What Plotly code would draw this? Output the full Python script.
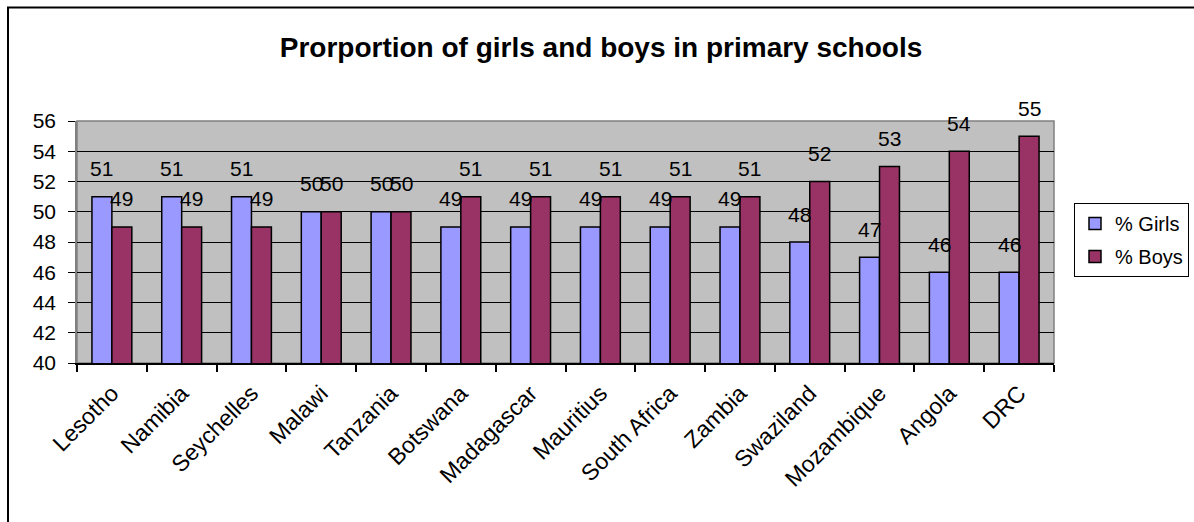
import plotly.graph_objects as go

countries = ["Lesotho", "Namibia", "Seychelles", "Malawi", "Tanzania", "Botswana",
             "Madagascar", "Mauritius", "South Africa", "Zambia", "Swaziland",
             "Mozambique", "Angola", "DRC"]
girls = [51, 51, 51, 50, 50, 49, 49, 49, 49, 49, 48, 47, 46, 46]
boys = [49, 49, 49, 50, 50, 51, 51, 51, 51, 51, 52, 53, 54, 55]
y_ticks = [40, 42, 44, 46, 48, 50, 52, 54, 56]

FONT = "Arial, Liberation Sans, sans-serif"
W, H = 1194, 522
ML, MR, MT, MB = 77, 140, 121, 159
plot_w = W - ML - MR
plot_h = H - MT - MB
cat_w = plot_w / len(countries)
bargap = 1.5 / 3.5
bar_w = cat_w * (1 - bargap) / 2

fig = go.Figure()
fig.add_trace(go.Bar(x=countries, y=girls, name="% Girls", legendgroup="girls",
                     marker=dict(color="#9999FF", line=dict(color="black", width=1.5))))
fig.add_trace(go.Bar(x=countries, y=boys, name="% Boys", legendgroup="boys",
                     marker=dict(color="#993366", line=dict(color="black", width=1.5))))

# value labels above each bar
annotations = []
for i, c in enumerate(countries):
    for vals, shift in ((girls, -bar_w / 2), (boys, bar_w / 2)):
        annotations.append(dict(x=c, y=vals[i], xref="x", yref="y", text=str(vals[i]),
                                showarrow=False, xshift=shift, yshift=28,
                                yanchor="middle", xanchor="center",
                                font=dict(family=FONT, size=21, color="black")))

# outer chart frame and plot area frame
to_px_x = lambda px: (px - ML) / plot_w
to_px_y = lambda py: (H - MB - py) / plot_h
shapes = [
    dict(type="rect", xref="paper", yref="paper", x0=to_px_x(8), y0=-2, x1=3,
         y1=to_px_y(7.5), line=dict(color="black", width=2), layer="above"),
    dict(type="rect", xref="paper", yref="paper", x0=0, y0=0, x1=1, y1=1,
         line=dict(color="#808080", width=1.5), layer="below"),
]

fig.update_layout(
    width=W, height=H,
    margin=dict(l=ML, r=MR, t=MT, b=MB, pad=0, autoexpand=False),
    paper_bgcolor="white", plot_bgcolor="#C0C0C0",
    barmode="group", bargap=bargap, bargroupgap=0,
    font=dict(family=FONT, size=21, color="black"),
    title=dict(text="<b>Prorportion of girls and boys in primary schools</b>",
               x=601 / W, xanchor="center", y=1 - 47 / H, yanchor="middle",
               font=dict(family=FONT, size=28, color="black")),
    legend=dict(x=to_px_x(1074), y=to_px_y(203), xanchor="left", yanchor="top",
                bordercolor="black", borderwidth=1, bgcolor="white",
                font=dict(family=FONT, size=20), tracegroupgap=4),
    annotations=annotations,
    shapes=shapes,
    showlegend=True,
)
fig.update_xaxes(showgrid=False, ticks="outside", tickson="boundaries", ticklen=7,
                 tickcolor="black", tickwidth=1.5, tickangle=-45,
                 showline=True, linecolor="black", linewidth=1.5,
                 ticklabelstandoff=6,
                 tickfont=dict(family=FONT, size=23))
fig.update_yaxes(range=[40, 56], tickvals=y_ticks, ticks="outside", ticklen=7,
                 tickcolor="black", tickwidth=1, showgrid=True, gridcolor="black",
                 gridwidth=1, showline=True, linecolor="#808080", linewidth=1.5,
                 zeroline=False, ticklabelstandoff=8,
                 tickfont=dict(family=FONT, size=21))

fig.write_html("out.html")
